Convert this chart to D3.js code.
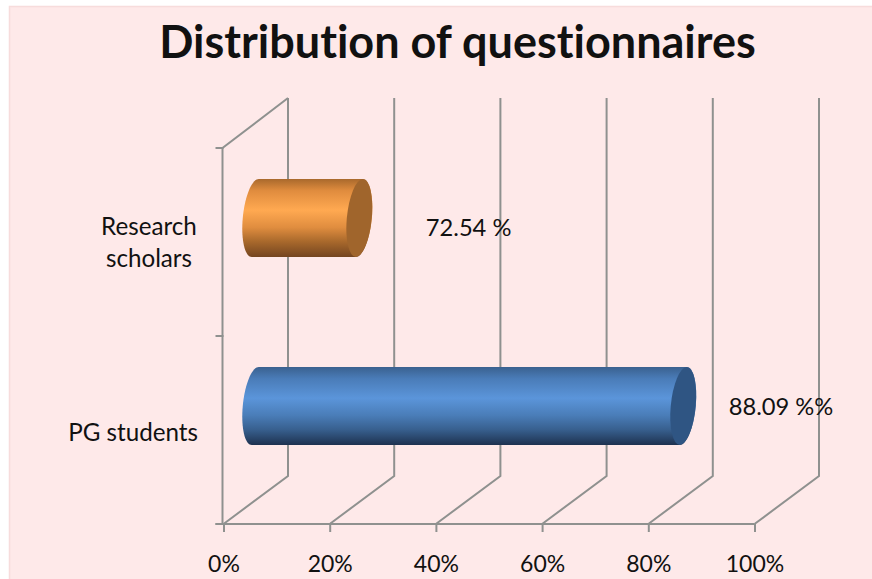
<!DOCTYPE html>
<html><head><meta charset="utf-8">
<script src="https://cdn.jsdelivr.net/npm/d3@7"></script>
<style>
html,body{margin:0;padding:0;background:#fff}
svg{display:block}
text{font-family:Lato,"Open Sans",sans-serif;fill:#111;font-variant-ligatures:none}
</style></head><body>
<svg id="c" width="872" height="579"></svg>
<script>
const titleText = "Distribution of questionnaires";
const categories = ["PG students", "Research scholars"];
const plottedValues = [80.6, 19.6];
const dataLabels = ["88.09 %%", "72.54 %"];
const xTicks = [0, 20, 40, 60, 80, 100];
const seriesColors = [
  {stops:["#3a618f","#4a7cb8","#5b95da","#4a7db8","#38608f","#1e3250"], cap:"#2f5583"},
  {stops:["#a9692c","#e08c3e","#ffa951","#e08d3f","#a9692c","#744520"], cap:"#a0652c"}
];

const svg = d3.select("#c");
const W = 872, H = 579;
const floorY = 524, topFront = 148, leftX = 223.5, rightX = 754.5;
const dx = 64.5, dy = -48, backTop = 98;

svg.append("rect").attr("x",9.5).attr("y",6.5).attr("width",W).attr("height",H)
  .attr("fill","#fee9e9").attr("stroke","#f7dcdc").attr("stroke-width",1.5);

svg.append("text").attr("x",457.5).attr("y",58).attr("text-anchor","middle")
  .attr("font-size",45).attr("font-weight",700).attr("fill","#000").text(titleText);

const x = d3.scaleLinear().domain([0,100]).range([leftX,rightX]);
const y = d3.scaleBand().domain(categories).range([floorY,topFront]);

const grid = "#8f918f";
const sw = 2;
const walls = svg.append("g").attr("fill","none").attr("stroke",grid).attr("stroke-width",sw);
xTicks.forEach(t=>{
  const p = d3.path();
  p.moveTo(x(t),floorY); p.lineTo(x(t)+dx,floorY+dy); p.lineTo(x(t)+dx,backTop);
  walls.append("path").attr("d",p.toString());
});
const lw = d3.path();
lw.moveTo(leftX-1,floorY); lw.lineTo(leftX-1,topFront); lw.lineTo(leftX+dx,backTop);
walls.append("path").attr("d",lw.toString());

const xAxis = d3.axisBottom(x).tickValues(xTicks).tickSize(8).tickPadding(24).tickFormat(d=>d+"%");
const gx = svg.append("g").attr("transform",`translate(0,${floorY})`).call(xAxis);
gx.select(".domain").attr("stroke",grid).attr("stroke-width",sw).attr("d",`M${leftX-8},0H${rightX}`);
gx.selectAll(".tick line").attr("stroke",grid).attr("stroke-width",sw);
gx.selectAll(".tick text").attr("font-size",23).attr("font-family",'Lato,sans-serif').attr("fill","#111");

const yTicks = [floorY,(floorY+topFront)/2,topFront];
svg.append("g").selectAll("line").data(yTicks).join("line")
  .attr("x1",leftX-8).attr("x2",leftX).attr("y1",d=>d).attr("y2",d=>d)
  .attr("stroke",grid).attr("stroke-width",sw);

const defs = svg.append("defs");
const offs = [0,0.15,0.4,0.62,0.8,1];
const barH = 78, rx = 12.5, skew = -0.09;
const ox = dx/2, oy = dy/2;

categories.forEach((c,i)=>{
  const top = y(c)+y.bandwidth()/2+oy-barH/2;
  const cy = top+barH/2, ry = barH/2;
  const x0 = x(0)+ox-0.5, x1 = x(plottedValues[i])+ox-0.5;
  const gid = "grad"+i;
  const g = defs.append("linearGradient").attr("id",gid).attr("gradientUnits","userSpaceOnUse")
    .attr("x1",0).attr("x2",0).attr("y1",top).attr("y2",top+barH);
  offs.forEach((o,k)=>g.append("stop").attr("offset",o).attr("stop-color",seriesColors[i].stops[k]));
  // ellipse outline point, sheared so the cap leans like the 3-D cylinder
  const ePt = (cx,a)=>{ const ey = ry*Math.sin(a), ex = rx*Math.cos(a); return [cx+ex+skew*ey, cy+ey]; };
  const line = d3.line();
  const tp = a=>a*Math.PI/180;
  const body = [];
  d3.range(90,271,5).forEach(a=>body.push(ePt(x0,tp(a))));   // left half of start cap, bottom to top
  d3.range(270,451,5).forEach(a=>body.push(ePt(x1,tp(a))));  // right half of end cap, top to bottom
  const bar = svg.append("g");
  bar.append("path").attr("fill",`url(#${gid})`).attr("d",line(body)+"Z");
  bar.append("ellipse").attr("rx",rx).attr("ry",ry).attr("fill",seriesColors[i].cap)
    .attr("transform",`matrix(1,0,${skew},1,${x1},${cy})`);
});

// category labels
const catLines = {"PG students":["PG students"],"Research scholars":["Research","scholars"]};
svg.append("text").attr("x",198).attr("y",441).attr("text-anchor","end").attr("font-size",24.2).text(catLines["PG students"][0]);
const rs = svg.append("text").attr("text-anchor","middle").attr("font-size",24.2);
rs.append("tspan").attr("x",149).attr("y",235).text(catLines["Research scholars"][0]);
rs.append("tspan").attr("x",149).attr("y",267).text(catLines["Research scholars"][1]);

// data labels
svg.append("text").attr("x",x(plottedValues[0])+ox+45).attr("y",415).attr("font-size",23.7).text(dataLabels[0]);
svg.append("text").attr("x",x(plottedValues[1])+ox+66).attr("y",236).attr("font-size",23.7).text(dataLabels[1]);
</script>
</body></html>
